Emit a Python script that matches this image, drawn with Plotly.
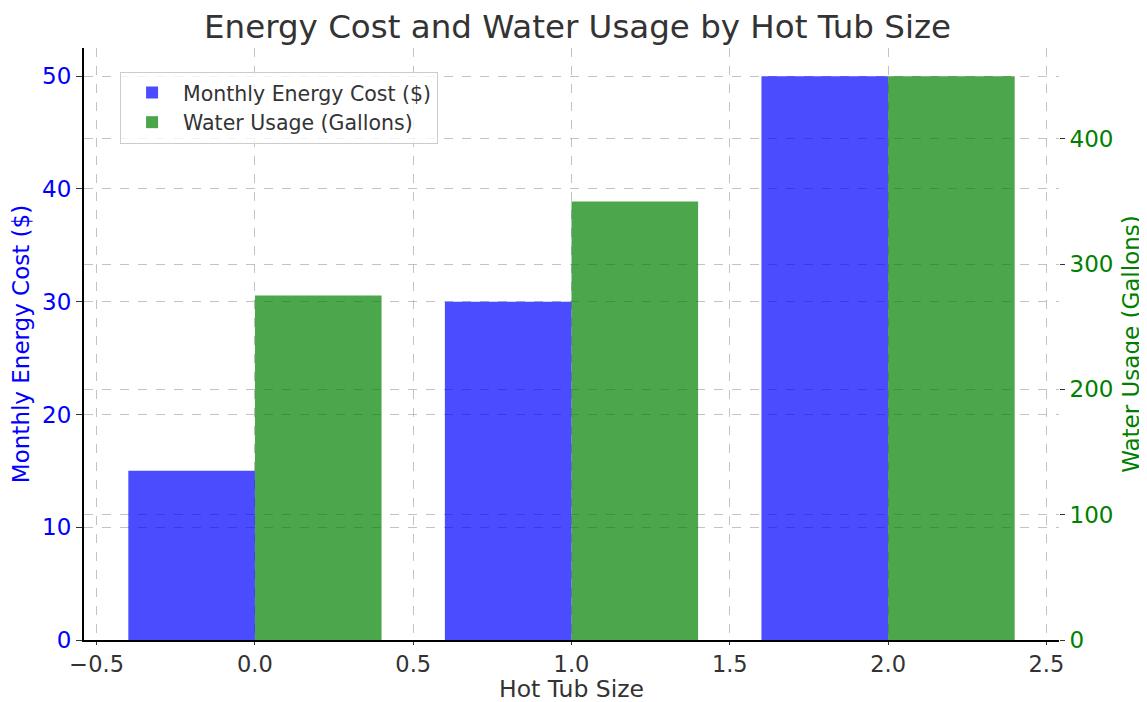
import plotly.graph_objects as go

sizes = [0, 1, 2]
energy_cost = [15, 30, 50]
water_usage = [275, 350, 450]
x_ticks = [-0.5, 0.0, 0.5, 1.0, 1.5, 2.0, 2.5]
x_ticklabels = ["\u22120.5", "0.0", "0.5", "1.0", "1.5", "2.0", "2.5"]
x_title = "Hot Tub Size"

FONT = "DejaVu Sans"
grid = "rgba(175,175,175,0.75)"

fig = go.Figure()
fig.add_trace(go.Bar(
    x=sizes, y=energy_cost, name="Monthly Energy Cost ($)",
    width=0.4, offset=-0.4, marker=dict(color="blue", line=dict(width=0)),
    opacity=0.7, yaxis="y"))
fig.add_trace(go.Bar(
    x=sizes, y=water_usage, name="Water Usage (Gallons)",
    width=0.4, offset=0.0, marker=dict(color="green", line=dict(width=0)),
    opacity=0.7, yaxis="y2"))

# page body has an 8px margin, so the figure is sized/offset to compensate
fig.update_layout(
    width=1139, height=694,
    margin=dict(l=76, r=88, t=40, b=62),
    paper_bgcolor="white", plot_bgcolor="white",
    barmode="overlay",
    font=dict(family=FONT, color="#333333"),
    title=dict(text="Energy Cost and Water Usage by Hot Tub Size",
               x=0.5, xanchor="center", y=0.973, yanchor="middle",
               font=dict(size=32.5, color="#333333")),
    xaxis=dict(range=[-0.54, 2.54], tickvals=x_ticks, ticktext=x_ticklabels,
               automargin=False,
               showgrid=True, gridcolor=grid, griddash="dash", gridwidth=1,
               zeroline=False, showline=True, linecolor="black", linewidth=2,
               ticks="outside", ticklen=3, tickcolor="#333333",
               tickfont=dict(size=22.5, color="#333333")),
    yaxis=dict(range=[0, 52.5], dtick=10, tick0=0, automargin=False,
               showgrid=True, gridcolor=grid, griddash="dash", gridwidth=1,
               zeroline=False, showline=True, linecolor="black", linewidth=2,
               ticks="outside", ticklen=6, tickcolor="#333333",
               tickfont=dict(size=23, color="blue"),
               title=dict(text="Monthly Energy Cost ($)", font=dict(size=23, color="blue"), standoff=10)),
    yaxis2=dict(range=[0, 472.5], dtick=100, tick0=0, overlaying="y", side="right",
                automargin=False,
                showgrid=True, gridcolor=grid, griddash="dash", gridwidth=1,
                zeroline=False, showline=False,
                ticks="outside", ticklen=5, tickcolor="#333333",
                tickfont=dict(size=23, color="green"),
                title=dict(text="Water Usage (Gallons)", font=dict(size=23, color="green"), standoff=10)),
    legend=dict(x=0.037, y=0.96, xanchor="left", yanchor="top",
                bgcolor="rgba(255,255,255,0.8)", bordercolor="#cccccc", borderwidth=1,
                font=dict(size=20.5, color="#333333"), tracegroupgap=2,
                itemwidth=52),
    showlegend=True,
    annotations=[dict(text=x_title, xref="paper", yref="paper", x=0.5, y=-0.083,
                      xanchor="center", yanchor="middle", showarrow=False,
                      font=dict(size=23.5, color="#333333", family=FONT))],
)

fig.write_html("out.html")
